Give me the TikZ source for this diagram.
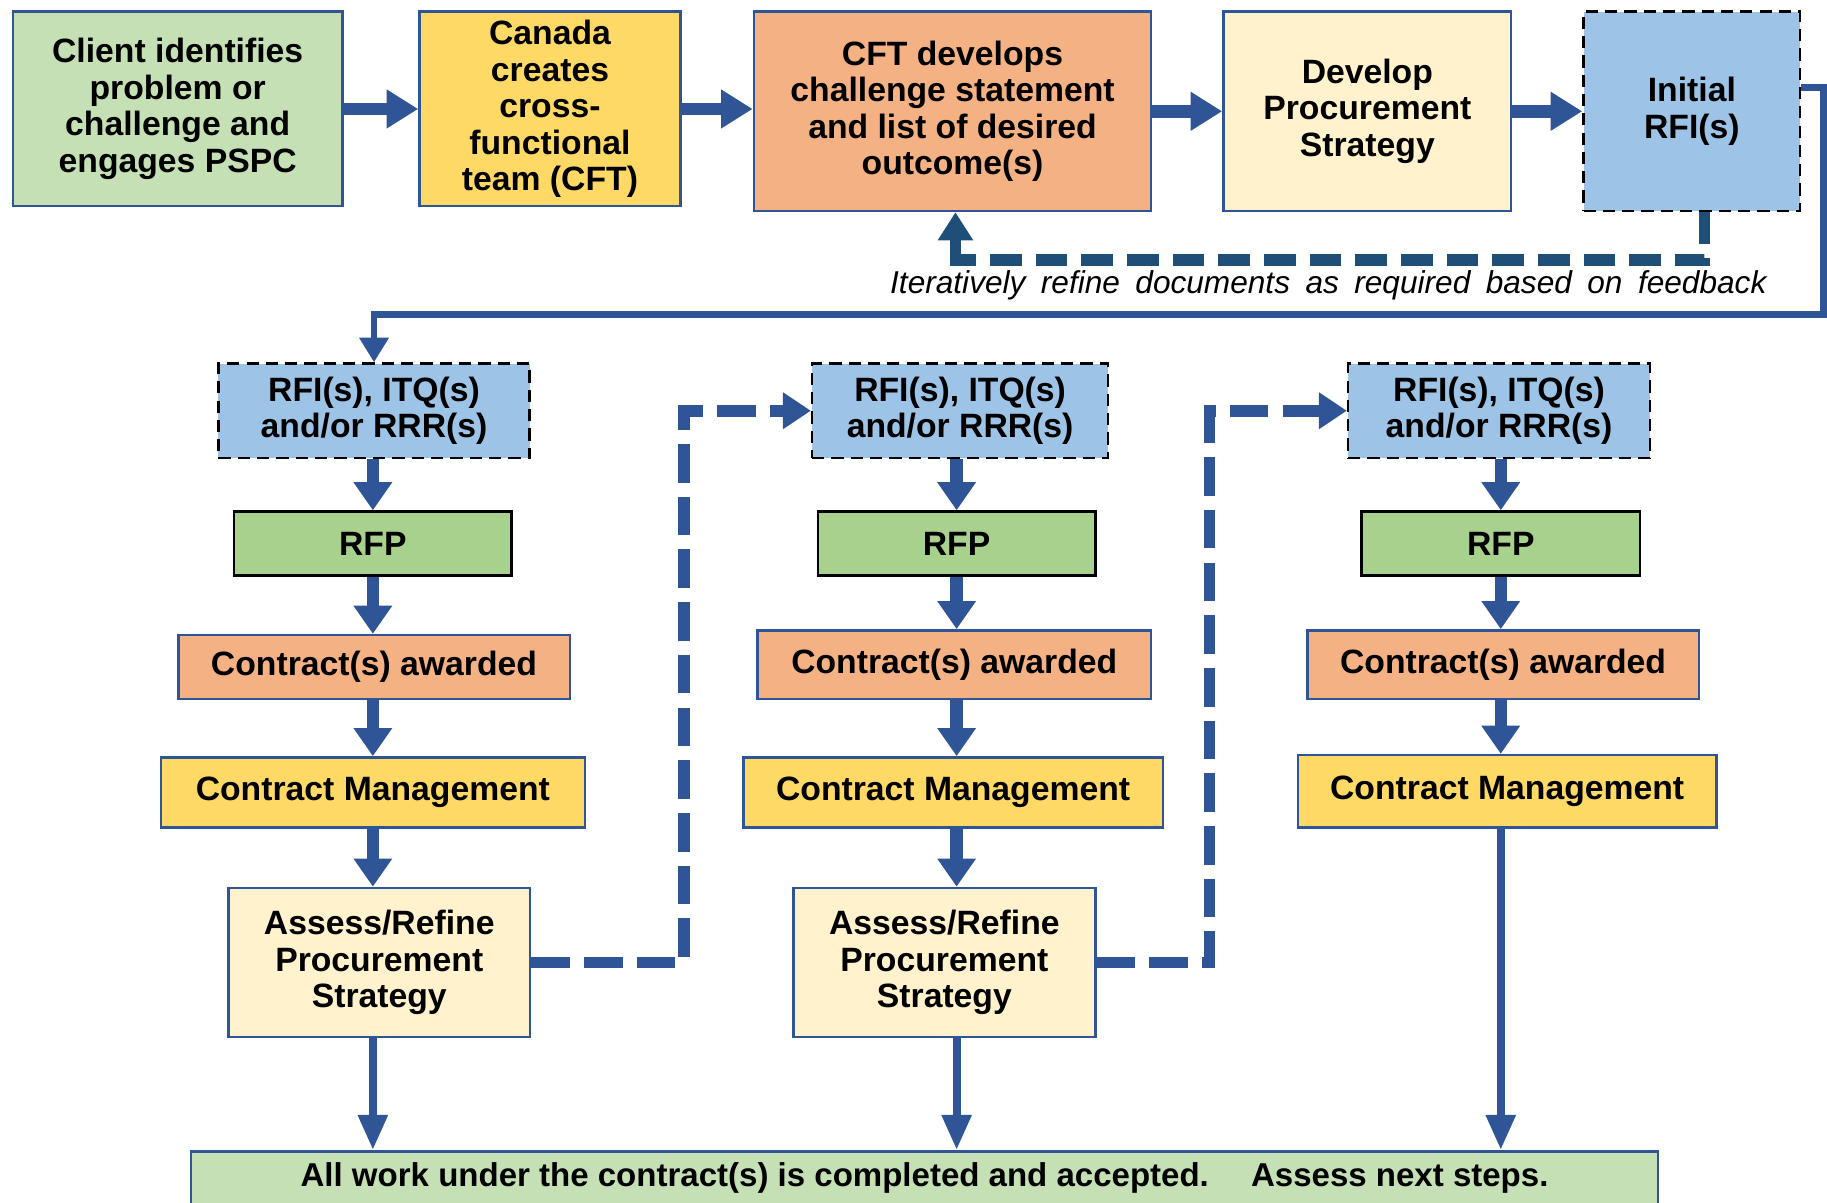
\documentclass[tikz,border=0pt]{standalone}
\usepackage{fontspec}
\setmainfont{Liberation Sans}
\usetikzlibrary{arrows.meta}

\definecolor{greenfill}{HTML}{C5E0B4}
\definecolor{goldfill}{HTML}{FFD966}
\definecolor{salmonfill}{HTML}{F4B183}
\definecolor{creamfill}{HTML}{FFF2CC}
\definecolor{skyfill}{HTML}{9DC3E6}
\definecolor{rfpfill}{HTML}{A9D18E}
\definecolor{boxline}{HTML}{2F5597}
\definecolor{arrowblue}{HTML}{2F5597}
\definecolor{fbblue}{HTML}{1F4E79}

% one pixel of the layout grid
\newcommand\upx{0.011652cm}
\newcommand\boxfont{\fontsize{9.6}{10.4}\selectfont\bfseries}
\newcommand\notefont{\fontsize{9}{10}\selectfont\itshape\spaceskip 4.4pt\relax}

\begin{document}
\begin{tikzpicture}[x=\upx, y=-\upx,
    box/.style={draw=boxline, line width=0.7pt, align=center, inner sep=0pt, font=\boxfont},
    boxsize/.style 2 args={minimum width=#1*\upx, minimum height=#2*\upx},
    rfibox/.style={box, fill=skyfill, draw=black, dash pattern=on 3.5pt off 2pt},
    rfpbox/.style={box, fill=rfpfill, draw=black},
    toparrow/.style={arrowblue, line width=3.6pt, -{Triangle[length=9pt,width=10.5pt]}},
    blockarrow/.style={arrowblue, line width=3.5pt, -{Triangle[length=8pt,width=10.5pt]}},
    longarrow/.style={arrowblue, line width=2.3pt, -{Triangle[length=10pt,width=8pt]}},
    mainline/.style={arrowblue, line width=1.8pt, -{Triangle[length=7pt,width=8pt]}},
    loopdash/.style={arrowblue, line width=3.3pt, dash pattern=on 11pt off 4pt, -{Triangle[length=8pt,width=10pt]}},
    fbdash/.style={fbblue, line width=3.3pt, dash pattern=on 9pt off 4pt},
    fbarrow/.style={fbblue, line width=3.3pt, line cap=rect, -{Triangle[length=8pt,width=9.5pt]}}]
    \useasboundingbox (0,0) rectangle (1568,1032);

    % top row
    \node[box, fill=greenfill, boxsize={283}{167}] (client) at (152.5,93.5)
        {Client identifies\\problem or\\challenge and\\engages PSPC};
    \node[box, fill=goldfill, boxsize={224}{167}] (canada) at (472,93.5)
        {Canada\\creates\\cross-\\functional\\team (CFT)};
    \node[box, fill=salmonfill, boxsize={341}{171}] (cft) at (817.5,95.5)
        {CFT develops\\challenge statement\\and list of desired\\outcome(s)};
    \node[box, fill=creamfill, boxsize={247}{171}] (develop) at (1173.5,95.5)
        {Develop\\Procurement\\Strategy};
    \node[rfibox, boxsize={186}{171}] (initial) at (1452,95.5) {Initial\\RFI(s)};

    \draw[toparrow] (client.east) -- (client.east -| canada.west);
    \draw[toparrow] (canada.east) -- (canada.east -| cft.west);
    \draw[toparrow] (cft.east) -- (cft.east -| develop.west);
    \draw[toparrow] (develop.east) -- (develop.east -| initial.west);

    % feedback loop
    \coordinate (fbR) at (1463,223);
    \coordinate (fbL) at (820,223);
    \draw[fbdash] (initial.south -| fbR) -- (fbR) -- (fbL);
    \draw[fbarrow] (fbL) -- (cft.south -| fbL);
    \node[font=\notefont] (fbnote) at (1140,245)
        {Iteratively refine documents as required based on feedback};

    % first column
    \node[rfibox, boxsize={267}{81}] (rfiA) at (321,352.5) {RFI(s), ITQ(s)\\and/or RRR(s)};
    \node[rfpbox, boxsize={238}{55}] (rfpA) at (320,466.5) {RFP};
    \node[box, fill=salmonfill, boxsize={336}{55}] (awdA) at (321,572.5) {Contract(s) awarded};
    \node[box, fill=goldfill, boxsize={364}{60}] (mgmtA) at (320,680) {Contract Management};
    \node[box, fill=creamfill, boxsize={259}{128}] (assA) at (325.5,826)
        {Assess/Refine\\Procurement\\Strategy};

    % second column
    \node[rfibox, boxsize={254}{81}] (rfiB) at (824,352.5) {RFI(s), ITQ(s)\\and/or RRR(s)};
    \node[rfpbox, boxsize={238}{55}] (rfpB) at (821,466.5) {RFP};
    \node[box, fill=salmonfill, boxsize={338}{59}] (awdB) at (819,570.5) {Contract(s) awarded};
    \node[box, fill=goldfill, boxsize={360}{60}] (mgmtB) at (818,680) {Contract Management};
    \node[box, fill=creamfill, boxsize={259}{128}] (assB) at (810.5,826)
        {Assess/Refine\\Procurement\\Strategy};

    % third column
    \node[rfibox, boxsize={259}{81}] (rfiC) at (1286.5,352.5) {RFI(s), ITQ(s)\\and/or RRR(s)};
    \node[rfpbox, boxsize={239}{55}] (rfpC) at (1288,466.5) {RFP};
    \node[box, fill=salmonfill, boxsize={336}{59}] (awdC) at (1290,570.5) {Contract(s) awarded};
    \node[box, fill=goldfill, boxsize={359}{62}] (mgmtC) at (1293.5,679) {Contract Management};

    % closing box
    \node[box, fill=greenfill, boxsize={1259}{70}, anchor=north, text depth=0.35cm,
        font=\fontsize{9.4}{10.4}\selectfont\bfseries] (done) at (793.5,987)
        {All work under the contract(s) is completed and accepted.\quad\ Assess next steps.};

    \foreach \c in {A,B,C} {
        \draw[blockarrow] (rfi\c.south -| rfp\c) -- (rfp\c.north);
        \draw[blockarrow] (rfp\c.south) -- (rfp\c.south |- awd\c.north);
        \draw[blockarrow] (awd\c.south -| rfp\c) -- (mgmt\c.north -| rfp\c);
    }
    \foreach \c in {A,B} {
        \draw[blockarrow] (mgmt\c.south -| rfp\c) -- (ass\c.north -| rfp\c);
        \draw[longarrow] (ass\c.south -| rfp\c) -- (done.north -| rfp\c);
    }
    \draw[longarrow] (mgmtC.south -| rfpC) -- (done.north -| rfpC);

    % from the initial RFI down to the first column
    \coordinate (rt) at (1565,75);
    \coordinate (rb) at (1565,270);
    \draw[mainline] (initial.east |- rt) -- (rt) -- (rb) -| (rfiA.north);

    % refine and go round again
    \coordinate (jA) at (587,0);
    \coordinate (jB) at (1038,0);
    \draw[loopdash] (assA.east) -| (jA |- rfiB.west) -- (rfiB.west);
    \draw[loopdash] (assB.east) -| (jB |- rfiC.west) -- (rfiC.west);
\end{tikzpicture}
\end{document}
